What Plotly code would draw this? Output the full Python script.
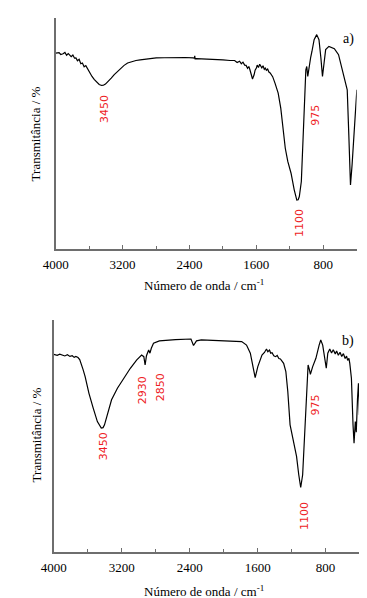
import plotly.graph_objects as go

# ---------------- data ----------------
wn_a = [4000, 3960, 3940, 3912, 3890, 3870, 3850, 3835, 3815, 3795, 3775, 3758,
        3740, 3720, 3700, 3681, 3660, 3640, 3624, 3600, 3566, 3540, 3508, 3480,
        3451, 3430, 3405, 3370, 3336, 3300, 3259, 3220, 3182, 3140, 3086, 3040,
        2990, 2900, 2798, 2700, 2568, 2450, 2356, 2340, 2337, 2333, 2318, 2200,
        2107, 2000, 1915, 1860, 1830, 1800, 1780, 1760, 1740, 1723, 1705, 1690,
        1677, 1665, 1655, 1646, 1637, 1627, 1615, 1600, 1590, 1575, 1560, 1550,
        1535, 1520, 1505, 1493, 1480, 1465, 1450, 1435, 1405, 1377, 1339, 1308,
        1281, 1254, 1224, 1185, 1147, 1130, 1116, 1100, 1086, 1062, 1039, 1020,
        1008, 997, 985, 970, 950, 935, 909, 878, 851, 828, 809, 790, 771, 732,
        667, 617, 571, 532, 513, 494, 474, 455, 425, 398]
tr_a = [84.8, 85.0, 84.2, 84.5, 85.1, 83.9, 84.6, 84.1, 83.3, 84.0, 82.6, 82.7,
        81.5, 82.1, 80.2, 80.5, 78.9, 79.4, 78.3, 76.9, 74.7, 73.4, 72.3, 71.2,
        70.8, 70.9, 71.4, 72.6, 74.0, 75.5, 76.9, 78.3, 79.5, 80.5, 81.2, 81.6,
        81.9, 82.4, 82.7, 82.8, 82.9, 82.9, 82.7, 82.6, 83.6, 82.3, 82.4, 82.3,
        82.2, 81.9, 81.6, 81.6, 80.7, 81.3, 80.2, 80.9, 79.6, 79.5, 78.2, 79.0,
        77.6, 76.0, 74.7, 73.6, 74.5, 75.4, 77.4, 78.3, 79.6, 78.6, 80.0, 79.5,
        78.4, 79.3, 77.8, 78.3, 77.4, 77.9, 76.6, 76.2, 74.6, 71.8, 67.5, 61.0,
        52.3, 43.6, 37.9, 32.8, 25.6, 23.0, 21.2, 21.3, 22.7, 29.2, 46.5, 66.8,
        77.6, 79.0, 74.7, 79.0, 83.0, 85.5, 90.6, 92.8, 90.6, 82.7, 74.7, 80.5,
        86.3, 87.7, 86.7, 84.1, 77.6, 71.1, 68.9, 49.4, 27.7, 36.4, 53.8, 68.9]

wn_b = [4000, 3960, 3930, 3897, 3870, 3840, 3810, 3783, 3760, 3740, 3715, 3695,
        3677, 3655, 3631, 3586, 3536, 3487, 3441, 3420, 3403, 3365, 3320, 3251,
        3175, 3099, 3023, 2966, 2940, 2925, 2909, 2883, 2868, 2852, 2826, 2757,
        2567, 2385, 2355, 2320, 2263, 2035, 1788, 1731, 1686, 1655, 1629, 1598,
        1549, 1520, 1496, 1480, 1460, 1446, 1430, 1410, 1389, 1370, 1350, 1332,
        1294, 1268, 1245, 1218, 1180, 1142, 1116, 1093, 1070, 1047, 1025, 1006,
        990, 979, 952, 914, 876, 857, 834, 811, 792, 774, 751, 730, 710, 686,
        670, 650, 630, 610, 590, 570, 553, 540, 525, 515, 496, 477, 465, 450,
        439, 424, 413, 401]
tr_b = [85.2, 84.8, 85.3, 84.9, 84.5, 85.0, 84.3, 84.6, 83.9, 84.3, 83.8, 82.9,
        81.3, 78.6, 75.6, 68.4, 62.0, 56.2, 53.4, 53.6, 54.8, 59.8, 65.6, 70.6,
        74.9, 79.2, 82.8, 84.9, 84.2, 80.6, 84.6, 87.1, 85.7, 87.8, 90.0, 91.0,
        91.5, 91.8, 89.0, 91.0, 91.4, 91.1, 90.7, 89.2, 85.7, 79.9, 75.2, 79.9,
        84.9, 86.0, 87.5, 86.3, 87.0, 85.7, 85.9, 84.6, 84.2, 84.7, 83.4, 83.2,
        81.3, 77.8, 69.2, 54.8, 47.6, 41.2, 33.3, 27.8, 33.3, 49.1, 66.3, 80.6,
        78.5, 76.6, 79.9, 83.5, 89.2, 91.4, 89.2, 84.2, 79.2, 85.7, 87.5, 85.8,
        87.2, 85.4, 86.6, 84.8, 86.1, 84.3, 85.5, 83.4, 84.4, 82.6, 83.5, 81.3,
        74.9, 54.8, 46.9, 56.2, 51.6, 66.3, 72.7, 59.1]

x_ticks = [4000, 3200, 2400, 1600, 800]
x_minor = [3600, 2800, 2000, 1200, 400]
x_title = "Número de onda / cm<sup>-1</sup>"
y_title = "Transmitância / %"

peaks_a = [("3450", 3423, 60.6), ("1100", 1077, 11.3), ("975", 888, 58.1)]
peaks_b = [("3450", 3421, 45.6), ("2930", 2955, 69.5), ("2850", 2751, 71.0),
           ("1100", 1047, 15.4), ("975", 915, 63.5)]
panel_labels = [("a)", 492, 90.9), ("b)", 533, 90.8)]

# ---------------- figure ----------------
W, H = 367, 598
SERIF = "'Times New Roman', 'Liberation Serif', Times, serif"
RED = "#ee1c25"
AXC = "#6e6e6e"

fig = go.Figure()
fig.add_trace(go.Scatter(x=wn_a, y=tr_a, mode="lines", xaxis="x", yaxis="y",
                         line=dict(color="black", width=1.2), showlegend=False))
fig.add_trace(go.Scatter(x=wn_b, y=tr_b, mode="lines", xaxis="x2", yaxis="y2",
                         line=dict(color="black", width=1.2), showlegend=False))

def xax(domain, anchor):
    return dict(domain=domain, anchor=anchor, range=[4000, 400], showgrid=False,
                zeroline=False, showline=True, linecolor=AXC, linewidth=1.5,
                tickmode="array", tickvals=x_ticks, ticks="inside", ticklen=4,
                tickcolor=AXC, tickwidth=1,
                minor=dict(tickmode="array", tickvals=x_minor,
                           ticks="inside", ticklen=3, tickcolor=AXC),
                tickfont=dict(family=SERIF, size=13, color="black"),
                ticklabelstandoff=3)

def yax(domain, anchor):
    return dict(domain=domain, anchor=anchor, range=[0, 100], showgrid=False,
                zeroline=False, showline=True, linecolor=AXC, linewidth=1.5,
                showticklabels=False, ticks="")

def fx(px):
    return px / W

def fy(py):
    return 1 - py / H

fig.update_layout(
    width=W, height=H, margin=dict(l=0, r=0, t=0, b=0),
    paper_bgcolor="white", plot_bgcolor="white",
    font=dict(family=SERIF),
    xaxis=xax([fx(36), fx(348)], "y"),
    yaxis=yax([fy(241), fy(10)], "x"),
    xaxis2=xax([fx(34), fx(351)], "y2"),
    yaxis2=yax([fy(544), fy(312)], "x2"),
)

ann = []
for t, x, y in peaks_a:
    ann.append(dict(text=t, x=x, y=y, xref="x", yref="y", showarrow=False,
                    textangle=-90, font=dict(family="DejaVu Sans", size=11, color=RED)))
for t, x, y in peaks_b:
    ann.append(dict(text=t, x=x, y=y, xref="x2", yref="y2", showarrow=False,
                    textangle=-90, font=dict(family="DejaVu Sans", size=11, color=RED)))
ann.append(dict(text=panel_labels[0][0], x=panel_labels[0][1], y=panel_labels[0][2],
                xref="x", yref="y", showarrow=False,
                font=dict(family=SERIF, size=14, color="black")))
ann.append(dict(text=panel_labels[1][0], x=panel_labels[1][1], y=panel_labels[1][2],
                xref="x2", yref="y2", showarrow=False,
                font=dict(family=SERIF, size=14, color="black")))
for cx, cy in [(190, 277), (190, 583)]:
    ann.append(dict(text=x_title, x=fx(cx), y=fy(cy), xref="paper", yref="paper",
                    showarrow=False, xanchor="center", yanchor="middle",
                    font=dict(family=SERIF, size=13, color="black")))
for cx, cy in [(16, 126), (16, 427)]:
    ann.append(dict(text=y_title, x=fx(cx), y=fy(cy), xref="paper", yref="paper",
                    showarrow=False, xanchor="center", yanchor="middle", textangle=-90,
                    font=dict(family=SERIF, size=13, color="black")))
fig.update_layout(annotations=ann)

fig.write_html("out.html")
